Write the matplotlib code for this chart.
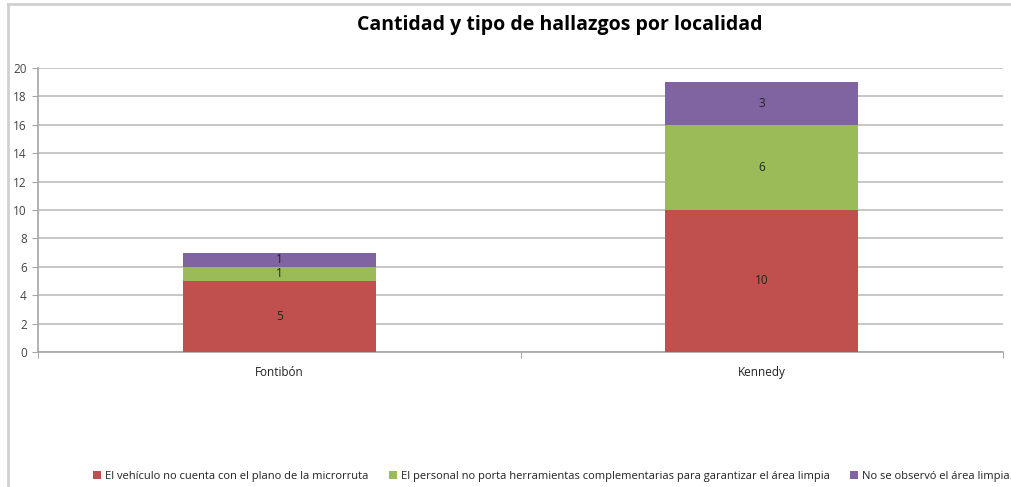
import matplotlib
matplotlib.use("Agg")
import matplotlib.pyplot as plt
from matplotlib.lines import Line2D
import numpy as np

categories = ["Fontibón", "Kennedy"]
series_names = [
    "El vehículo no cuenta con el plano de la microrruta",
    "El personal no porta herramientas complementarias para garantizar el área limpia",
    "No se observó el área limpia.",
]
vals_plano = [5, 10]
vals_herramientas = [1, 6]
vals_area = [1, 3]
colors = ["#C0504D", "#9BBB59", "#8064A2"]
yticks = [0, 2, 4, 6, 8, 10, 12, 14, 16, 18, 20]

plt.rcParams['font.family'] = ['Open Sans', 'DejaVu Sans']

W, H = 1011, 487
fig = plt.figure(figsize=(W / 100, H / 100), dpi=100)
ax = fig.add_axes([38 / W, 1 - 352 / H, (1003 - 38) / W, (352 - 68) / H])

x = np.arange(len(categories))
series = [vals_plano, vals_herramientas, vals_area]
bottom = np.zeros(len(categories))
handles = []
for name, vals, c in zip(series_names, series, colors):
    bars = ax.bar(x, vals, width=0.4, bottom=bottom, color=c, label=name, zorder=3)
    for rect, v in zip(bars, vals):
        ax.text(rect.get_x() + rect.get_width() / 2, rect.get_y() + rect.get_height() / 2,
                str(v), ha='center', va='center', fontsize=8.5, color='#222222', zorder=4)
    bottom += np.array(vals)
    handles.append(bars)

ax.set_xlim(-0.5, 1.5)
ax.set_ylim(0, 20)
ax.set_yticks(yticks)
ax.set_yticklabels([str(t) for t in yticks], fontsize=8.5, color='#444444')
ax.yaxis.grid(True, color='#BDBDBD', linewidth=1.2, zorder=0)
ax.set_axisbelow(True)
for s in ['top', 'right']:
    ax.spines[s].set_visible(False)
ax.spines['left'].set_color('#A6A6A6')
ax.spines['bottom'].set_color('#A6A6A6')
ax.spines['left'].set_linewidth(1.2)
ax.spines['bottom'].set_linewidth(1.2)
ax.tick_params(axis='y', length=4, color='#A6A6A6', pad=4)
ax.set_xticks([-0.5, 0.5, 1.5], minor=False)
ax.set_xticklabels(['', '', ''])
ax.tick_params(axis='x', length=4, color='#A6A6A6', direction='out')
ax.set_xticks(x, minor=True)
ax.set_xticklabels(categories, minor=True, fontsize=8.5, color='#222222')
ax.tick_params(axis='x', which='minor', length=0, pad=10)

fig.text(560 / W, 1 - 25 / H, "Cantidad y tipo de hallazgos por localidad",
         ha='center', va='center', fontsize=14, fontweight='bold', color='#000000')

leg = fig.legend(handles=handles, labels=series_names, loc='center',
                 bbox_to_anchor=(553 / W, 1 - 476 / H), ncol=3, frameon=False,
                 fontsize=8.0, handlelength=0.7, handleheight=0.7, handletextpad=0.4,
                 columnspacing=1.8, borderpad=0, borderaxespad=0)
for t in leg.get_texts():
    t.set_color('#222222')

fig.add_artist(Line2D([8 / W, 8 / W], [0, 1 - 4 / H], color='#D0D0D0', linewidth=2, transform=fig.transFigure))
fig.add_artist(Line2D([8 / W, 1], [1 - 4 / H, 1 - 4 / H], color='#D0D0D0', linewidth=2, transform=fig.transFigure))

fig.savefig("out.png", dpi=100, facecolor='white')
